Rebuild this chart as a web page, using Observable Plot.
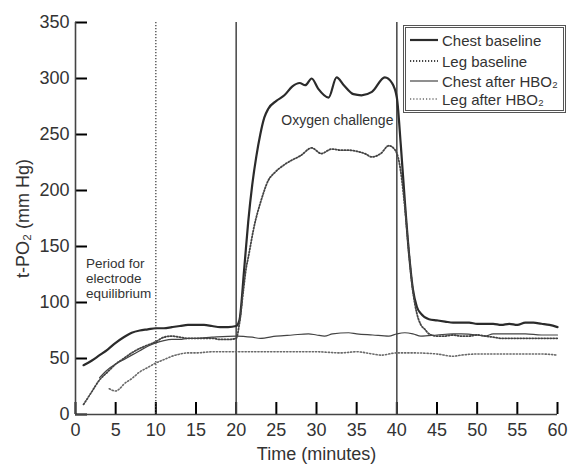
<!DOCTYPE html>
<html><head><meta charset="utf-8">
<script src="https://cdn.jsdelivr.net/npm/d3@7"></script>
<script src="https://cdn.jsdelivr.net/npm/@observablehq/plot@0.6"></script>
<style>
body{margin:0;background:#fff;}
#chart svg{font-family:"Liberation Sans",Arial,sans-serif;color:#333;}
#legend{position:absolute;left:403px;top:25px;width:163px;height:88px;border:3px double #555;background:#fff;box-sizing:border-box;font:15px "Liberation Sans",Arial,sans-serif;color:#333;}
#legend .row{position:absolute;left:4px;height:20px;display:flex;align-items:center;white-space:nowrap;}
#legend .row svg{margin-right:4px;}
</style></head><body><div id="chart"></div>
<script>
// ---- data ----
const xTicks = [0,5,10,15,20,25,30,35,40,45,50,55,60];
const yTicks = [0,50,100,150,200,250,300,350];
const equilibriumEnd = [10];
const challengeBounds = [20,40];
const seriesNames = ["Chest baseline","Leg baseline","Chest after HBO₂","Leg after HBO₂"];

const chestBaseT = [1,2,3,4,5,6,7,8,9,10,11,12,13,14,15,16,17,18,19,20,20.4,21,21.5,22,22.5,23,23.5,24,25,26,27,27.9,28.6,29.4,30.2,31.5,32.5,33.4,34.6,35.6,36.9,38.5,39.4,40,40.5,41,41.5,42,42.5,43,44,45,46,47,48,49,50,51,52,53,54,55,56,57,58,59,60];
const chestBaseV = [44,48,53,58,64,69,73,75,76,77,77,78,79,80,80,80,79,78,78,79,84,130,172,205,230,250,265,273,280,285,293,296,294,300,291,283,301,294,286,285,288,301,296,283,240,190,145,112,96,90,85,84,83,82,82,82,81,81,81,80,81,80,82,82,81,80,78];

const legBaseT = [1,2,3,4,5,6,7,8,9,10,11,12,13,14,15,16,17,18,19,20,20.4,20.9,21.25,21.5,22.3,23.1,24,24.8,26,26.9,28,29.4,30.6,31.9,33,34,35,36,36.9,38,39,39.8,40.3,41,41.5,42,42.5,43,43.5,44,45,46,47,48,49,50,51,52,53,54,55,56,57,58,59,60];
const legBaseV = [9,20,31,38,45,50,55,59,62,65,69,70,69,68,68,68,68,67,67,68,81,111,131,140,170,191,209,216,223,227,231,238,233,237,236,236,235,233,230,233,240,236,225,185,145,110,90,80,76,72,70,70,71,70,70,71,70,69,68,68,68,68,68,68,68,68];

const chestAfterT = [3,4,5,6,7,8,9,10,11,12,13,14,15,17,20,22,23,25,27,29,30,31,32,34,35,37,39,40,41,42,43,45,47,48,50,51,52,54,56,58,60];
const chestAfterV = [33,40,45,49,53,57,61,64,66,67,67,68,68,69,70,69,68,70,71,72,71,70,72,73,72,71,70,72,73,72,70,71,72,72,71,70,72,72,72,71,71];

const legAfterT = [4.2,5,5.5,6,7,8,9,10,11,12,13,14,15,17,20,25,30,33,35,37,38,40,42,45,47,48,50,55,58,60];
const legAfterV = [23,21,23,27,32,38,42,46,49,52,54,55,55,56,56,56,56,55,56,54,53,55,55,54,52,53,54,54,54,53];

const noteTexts = ["Oxygen challenge","Period for\nelectrode\nequilibrium"];
const noteT = [32.6, 1.3];
const noteV = [262.5, 121.5];

// ---- build ----
const toRows = (T,V) => T.map((t,i)=>({t, v:V[i]}));
const styles = [
  {stroke:"#2b2b2b", strokeWidth:2.2},
  {stroke:"#444", strokeWidth:1.8, strokeDasharray:"1.2,1.8"},
  {stroke:"#444", strokeWidth:1.2},
  {stroke:"#6a6a6a", strokeWidth:1.6, strokeDasharray:"1.2,2"}
];
const series = [[chestBaseT,chestBaseV],[legBaseT,legBaseV],[chestAfterT,chestAfterV],[legAfterT,legAfterV]];
const notes = noteTexts.map((text,i)=>({text, t:noteT[i], v:noteV[i]}));
const axisColor = "#444";
const tickLen = 12;

const chart = Plot.plot({
  width:569, height:464,
  marginLeft:75, marginRight:12, marginTop:22, marginBottom:50,
  x:{domain:[0,60]},
  y:{domain:[0,350]},
  marks:[
    // inward tick marks
    Plot.axisX({ticks:xTicks, tickSize:-tickLen, tickFormat:()=>"", label:null, stroke:"black", strokeWidth:2}),
    Plot.axisY({ticks:yTicks, tickSize:-tickLen, tickFormat:()=>"", label:null, stroke:"black", strokeWidth:2}),
    Plot.ruleX(equilibriumEnd, {stroke:axisColor, strokeWidth:1.3, strokeDasharray:"1.2,1.8"}),
    Plot.ruleX(challengeBounds, {stroke:axisColor, strokeWidth:1.5}),
    ...series.map(([T,V],i)=>Plot.line(toRows(T,V), {x:"t", y:"v", curve:"monotone-x", ...styles[i]})),
    Plot.ruleY([0], {stroke:axisColor, strokeWidth:1.6}),
    Plot.ruleX([0], {stroke:axisColor, strokeWidth:1.6}),
    // tick labels and axis titles
    Plot.axisX({ticks:xTicks, tickSize:0, tickPadding:9, fontSize:18, fill:"#333",
      label:"Time (minutes)", labelAnchor:"center", labelArrow:"none", labelOffset:45}),
    Plot.axisY({ticks:yTicks, tickSize:0, tickPadding:6, fontSize:18, fill:"#333",
      label:"t-PO₂ (mm Hg)", labelAnchor:"center", labelArrow:"none", labelOffset:59}),
    Plot.text(notes.slice(0,1), {x:"t", y:"v", text:"text", fontSize:14, fill:"#333"}),
    Plot.text(notes.slice(1), {x:"t", y:"v", text:"text", fontSize:13.5, textAnchor:"start", lineHeight:1.12, fill:"#333"})
  ]
});
document.getElementById("chart").appendChild(chart);

// legend
const legend = document.createElement("div");
legend.id = "legend";
const rowTops = [2, 23, 43, 61];
seriesNames.forEach((name,i)=>{
  const row = document.createElement("div");
  row.className = "row";
  row.style.top = rowTops[i] + "px";
  const s = styles[i];
  row.innerHTML = `<svg width="28" height="8"><line x1="0" x2="28" y1="4" y2="4" stroke="${s.stroke}" stroke-width="${s.strokeWidth}" ${s.strokeDasharray?`stroke-dasharray="${s.strokeDasharray}"`:""}/></svg><span>${name}</span>`;
  legend.appendChild(row);
});
document.body.appendChild(legend);
</script>
</body></html>
